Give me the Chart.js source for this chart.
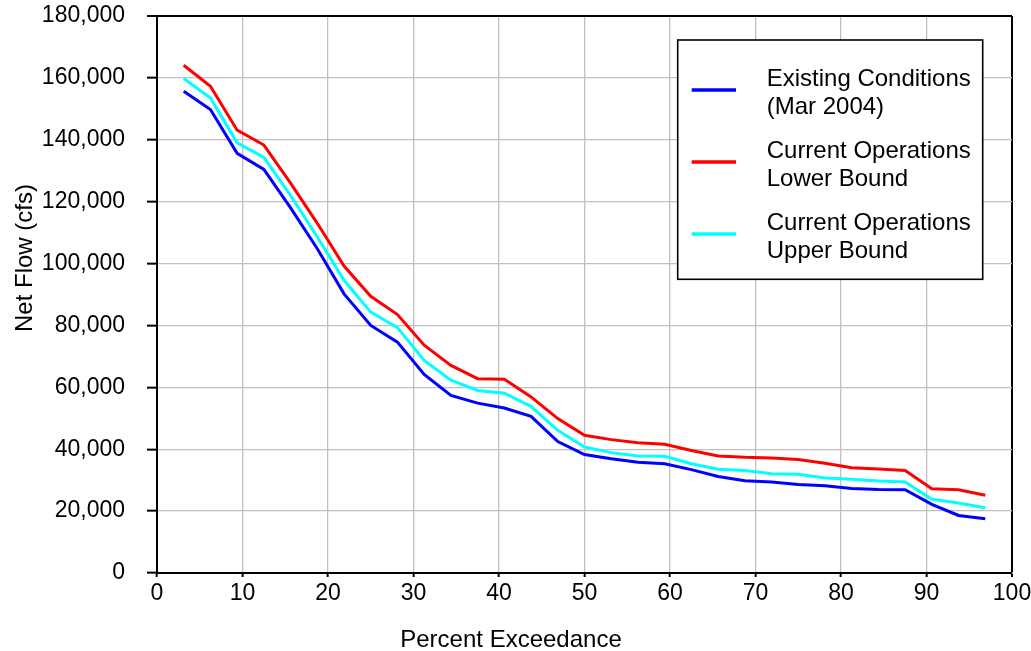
<!DOCTYPE html>
<html>
<head>
<meta charset="utf-8">
<script src="https://cdn.jsdelivr.net/npm/chart.js@4/dist/chart.umd.min.js"></script>
<style>
  html, body { margin: 0; padding: 0; background: #ffffff; }
  #wrap { width: 1031px; height: 651px; position: relative; }
</style>
</head>
<body>
<div id="wrap"><canvas id="flow"></canvas></div>
<script>
// Percent exceedance of each ranked year
const exceedance = [3.125, 6.25, 9.375, 12.5, 15.625, 18.75, 21.875, 25, 28.125, 31.25,
  34.375, 37.5, 40.625, 43.75, 46.875, 50, 53.125, 56.25, 59.375, 62.5,
  65.625, 68.75, 71.875, 75, 78.125, 81.25, 84.375, 87.5, 90.625, 93.75, 96.875];

// Net flow (cfs) for each scenario
const existingConditions = [155700, 149800, 135600, 130400, 118000, 104800, 90200, 80000, 74600, 64200,
  57400, 54900, 53300, 50600, 42500, 38300, 36900, 35800, 35300, 33400,
  31200, 29800, 29400, 28600, 28200, 27300, 27000, 26900, 22200, 18600, 17500];
const lowerBound = [164100, 157300, 143100, 138300, 126000, 113000, 99200, 89400, 83500, 73600,
  67100, 62800, 62600, 56900, 49900, 44500, 43100, 42100, 41600, 39600,
  37800, 37400, 37200, 36700, 35500, 34000, 33600, 33100, 27200, 26900, 25100];
const upperBound = [159800, 153500, 139000, 134300, 122000, 108600, 94600, 84300, 79300, 68700,
  62300, 59000, 58100, 53800, 46100, 40700, 38900, 37800, 37700, 35300,
  33500, 33100, 32100, 31900, 30700, 30300, 29700, 29400, 23800, 22600, 21100];

const seriesLabels = [
  ['Existing Conditions', '(Mar 2004)'],
  ['Current Operations', 'Lower Bound'],
  ['Current Operations', 'Upper Bound']
];
const seriesColors = ['#0000ff', '#ff0000', '#00ffff'];
const xTitle = 'Percent Exceedance';
const yTitle = 'Net Flow (cfs)';

const FONT = '"Liberation Sans", Arial, Helvetica, sans-serif';
const GRID = '#c0c0c0';

function toPoints(values) {
  return values.map((v, i) => ({ x: exceedance[i], y: v }));
}

// Axis titles and the boxed legend inside the plot
const annotations = {
  id: 'annotations',
  afterDraw(chart) {
    const ctx = chart.ctx;
    const area = chart.chartArea;
    ctx.save();
    ctx.fillStyle = '#000000';
    ctx.font = '24px ' + FONT;

    // x-axis title
    ctx.textAlign = 'center';
    ctx.textBaseline = 'alphabetic';
    ctx.fillText(xTitle, chart.width / 2 - 4.5, chart.height - 4.5);

    // y-axis title
    ctx.save();
    ctx.translate(area.left - 125.5, area.top + 242);
    ctx.rotate(-Math.PI / 2);
    ctx.fillText(yTitle, 0, 0);
    ctx.restore();

    // legend box
    const boxLeft = area.right - 334.3;
    const boxTop = area.top + 24;
    const boxW = 305;
    const boxH = 239.3;
    ctx.fillStyle = '#ffffff';
    ctx.fillRect(boxLeft, boxTop, boxW, boxH);
    ctx.strokeStyle = '#000000';
    ctx.lineWidth = 1.6;
    ctx.strokeRect(boxLeft, boxTop, boxW, boxH);

    ctx.textAlign = 'left';
    chart.data.datasets.forEach((ds, i) => {
      const base = boxTop + 46 + i * 72;
      ctx.strokeStyle = ds.borderColor;
      ctx.lineWidth = 3.3;
      ctx.beginPath();
      ctx.moveTo(boxLeft + 14, base + 4);
      ctx.lineTo(boxLeft + 58.3, base + 4);
      ctx.stroke();
      ctx.fillStyle = '#000000';
      seriesLabels[i].forEach((line, j) => {
        ctx.fillText(line, boxLeft + 89, base + j * 28);
      });
    });
    ctx.restore();
  }
};

const datasets = [existingConditions, lowerBound, upperBound].map((vals, i) => ({
  label: seriesLabels[i].join(' '),
  data: toPoints(vals),
  borderColor: seriesColors[i],
  backgroundColor: seriesColors[i],
  borderWidth: 3,
  pointRadius: 0,
  tension: 0,
  fill: false
}));

new Chart(document.getElementById('flow'), {
  type: 'line',
  data: { datasets },
  options: {
    responsive: true,
    maintainAspectRatio: false,
    animation: false,
    layout: { padding: { top: 16, right: 19, left: 0, bottom: 0 } },
    plugins: {
      legend: { display: false },
      tooltip: { enabled: false },
      title: { display: false }
    },
    scales: {
      x: {
        type: 'linear',
        min: 0,
        max: 100,
        afterFit(scale) {
          scale.height = 78;
          scale.paddingLeft = 0;
          scale.paddingRight = 0;
        },
        ticks: {
          stepSize: 10,
          color: '#000000',
          font: { family: FONT, size: 23 },
          padding: 3,
          maxRotation: 0
        },
        grid: {
          color: (c) => (c.tick && c.tick.value === 100 ? '#000000' : GRID),
          lineWidth: (c) => (c.tick && c.tick.value === 100 ? 2 : 1.3),
          tickColor: '#000000',
          tickLength: 4,
          tickWidth: 2
        },
        border: { color: '#000000', width: 2 }
      },
      y: {
        min: 0,
        max: 180000,
        afterFit(scale) {
          scale.width = 157;
          scale.paddingTop = 0;
          scale.paddingBottom = 0;
        },
        ticks: {
          stepSize: 20000,
          color: '#000000',
          font: { family: FONT, size: 23 },
          padding: 22,
          callback: (v) => v.toLocaleString('en-US')
        },
        grid: {
          color: (c) => (c.tick && c.tick.value === 180000 ? '#000000' : GRID),
          lineWidth: (c) => (c.tick && c.tick.value === 180000 ? 2 : 1.3),
          tickColor: '#000000',
          tickLength: 10,
          tickWidth: 2
        },
        border: { color: '#000000', width: 2 }
      }
    }
  },
  plugins: [annotations]
});
</script>
</body>
</html>
